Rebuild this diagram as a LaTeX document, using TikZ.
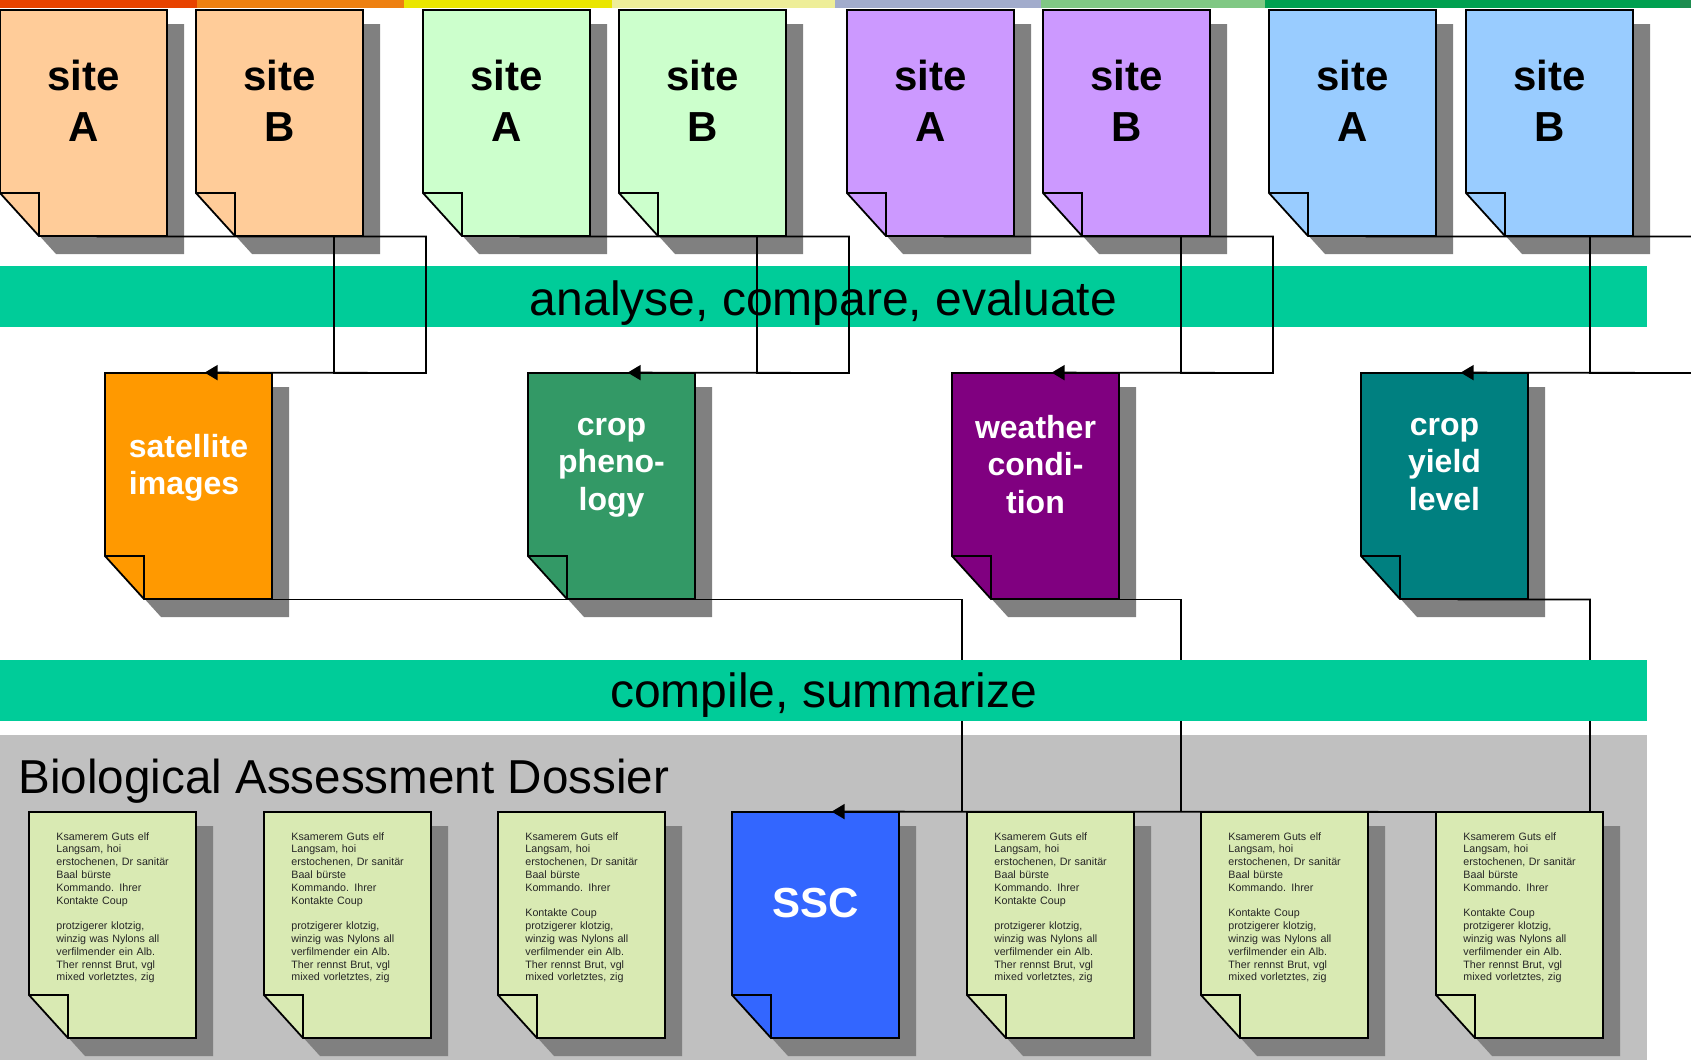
\documentclass[tikz,border=0pt]{standalone}
\usepackage{fontspec}
\setmainfont{Liberation Sans}
\usepackage{tikz}
\usepackage{xcolor}
\usetikzlibrary{calc,arrows.meta}

\definecolor{barA}{RGB}{232,67,0}
\definecolor{barB}{RGB}{238,128,16}
\definecolor{barC}{RGB}{234,230,0}
\definecolor{barD}{RGB}{238,238,153}
\definecolor{barE}{RGB}{162,172,204}
\definecolor{barF}{RGB}{128,200,132}
\definecolor{barG}{RGB}{0,160,80}
\definecolor{barH}{RGB}{30,140,80}
\definecolor{peach}{RGB}{255,204,153}
\definecolor{mint}{RGB}{204,255,204}
\definecolor{lilac}{RGB}{204,153,255}
\definecolor{skyblue}{RGB}{153,204,255}
\definecolor{satorange}{RGB}{255,153,0}
\definecolor{seagreen}{RGB}{51,153,102}
\definecolor{plum}{RGB}{128,0,128}
\definecolor{docteal}{RGB}{0,128,128}
\definecolor{sscblue}{RGB}{51,102,255}
\definecolor{paper}{RGB}{217,234,179}
\definecolor{band}{RGB}{0,204,153}
\definecolor{dossier}{RGB}{192,192,192}
\definecolor{shadowgray}{RGB}{128,128,128}

% sheet with folded corner and drop shadow: name, x, y, fill, text style, text
\newcommand{\docsheet}[6]{%
  \fill[shadowgray] (#2+17,#3+14) -- (#2+184,#3+14) -- (#2+184,#3+244)
    -- (#2+56,#3+244) -- (#2+17,#3+201) -- cycle;
  \filldraw[sheet, fill=#4] (#2,#3) -- (#2+167,#3) -- (#2+167,#3+226)
    -- (#2+39,#3+226) -- (#2,#3+183) -- cycle;
  \draw[sheet] (#2,#3+183) -- (#2+39,#3+183) -- (#2+39,#3+226);
  \node[sheetnode] (#1) at (#2+83.5,#3+113) {};
  \node[#5] (#1t) at ([yshift=11pt]#1.center) {#6};
}

\newcommand{\blindA}{Ksamerem Guts elf\\Langsam, hoi\\erstochenen, Dr sanitär\\Baal bürste\\Kommando. Ihrer\\Kontakte Coup\\[6.4pt]protzigerer klotzig,\\winzig was Nylons all\\verfilmender ein Alb.\\Ther rennst Brut, vgl\\mixed vorletztes, zig}
\newcommand{\blindB}{Ksamerem Guts elf\\Langsam, hoi\\erstochenen, Dr sanitär\\Baal bürste\\Kommando. Ihrer\\[6.4pt]Kontakte Coup\\protzigerer klotzig,\\winzig was Nylons all\\verfilmender ein Alb.\\Ther rennst Brut, vgl\\mixed vorletztes, zig}

\begin{document}
\begin{tikzpicture}[x=0.5pt, y=-0.5pt,
    sheet/.style={draw=black, line width=0.9pt},
    sheetnode/.style={minimum width=83.5pt, minimum height=113pt, inner sep=0pt},
    sitetext/.style={font=\fontsize{21pt}{25.5pt}\selectfont\bfseries, align=center},
    topictext/.style={font=\fontsize{16pt}{18.9pt}\selectfont\bfseries, align=center, text=white,
      execute at begin node=\strut, execute at end node=\strut, yshift=-3pt},
    papertext/.style={font=\fontsize{5.35pt}{6.4pt}\selectfont, text=black!85, text width=62pt,
      align=left, anchor=north west, inner sep=0pt, xshift=-28.25pt, yshift=35.5pt},
    bandtext/.style={font=\fontsize{24pt}{28pt}\selectfont},
    link/.style={line width=0.9pt},
    arrowlink/.style={link, -{Triangle[length=6.5pt, width=7.5pt]}}]
    \useasboundingbox (0,0) rectangle (1691,1060);
    \clip (0,0) rectangle (1691,1060);

    % colour bar on top
    \fill[barA] (0,0) rectangle (197,7.5);
    \fill[barB] (197,0) rectangle (404,7.5);
    \fill[barC] (404,0) rectangle (612,7.5);
    \fill[barD] (612,0) rectangle (835,7.5);
    \fill[barE] (835,0) rectangle (1041,7.5);
    \fill[barF] (1041,0) rectangle (1265,7.5);
    \fill[barG] (1265,0) rectangle (1680,7.5);
    \fill[barH] (1680,0) rectangle (1691,7.5);

    % first work step
    \fill[band] (0,266) rectangle (1647,327);

    % dossier
    \fill[dossier] (0,735) rectangle (1647,1060);
    \node[bandtext, font=\fontsize{23.8pt}{28pt}\selectfont, anchor=base west, inner sep=0pt] (title)
      at (18,793) {Biological Assessment Dossier};

    % site reports
    \docsheet{a1}{0}{10}{peach}{sitetext}{site\\A}
    \docsheet{b1}{196}{10}{peach}{sitetext}{site\\B}
    \docsheet{a2}{423}{10}{mint}{sitetext}{site\\A}
    \docsheet{b2}{619}{10}{mint}{sitetext}{site\\B}
    \docsheet{a3}{847}{10}{lilac}{sitetext}{site\\A}
    \docsheet{b3}{1043}{10}{lilac}{sitetext}{site\\B}
    \docsheet{a4}{1269}{10}{skyblue}{sitetext}{site\\A}
    \docsheet{b4}{1466}{10}{skyblue}{sitetext}{site\\B}

    % topics
    \docsheet{sat}{105}{373}{satorange}{topictext, align=left}{satellite\\images}
    \docsheet{phen}{528}{373}{seagreen}{topictext}{crop\\pheno-\\logy}
    \docsheet{wea}{952}{373}{plum}{topictext}{weather\\condi-\\tion}
    \docsheet{yld}{1361}{373}{docteal}{topictext}{crop\\yield\\level}

    % dossier parts
    \docsheet{d1}{29}{812}{paper}{papertext}{\blindA}
    \docsheet{d2}{264}{812}{paper}{papertext}{\blindA}
    \docsheet{d3}{498}{812}{paper}{papertext}{\blindB}
    \docsheet{ssc}{732}{812}{sscblue}{sitetext, text=white}{SSC}
    \docsheet{d5}{967}{812}{paper}{papertext}{\blindA}
    \docsheet{d6}{1201}{812}{paper}{papertext}{\blindB}
    \docsheet{d7}{1436}{812}{paper}{papertext}{\blindB}

    % sites to topics
    \coordinate (r1) at (426,373);
    \coordinate (r2) at (849,373);
    \coordinate (r3) at (1273,373);
    \coordinate (r4) at (1697,373);
    \draw[arrowlink] ([xshift=48.5pt]a1.south west) -| (r1) -- ([xshift=50pt]sat.north west);
    \draw[link] ([xshift=69pt]b1.south west) |- (r1);
    \draw[arrowlink] ([xshift=48.5pt]a2.south west) -| (r2) -- ([xshift=50pt]phen.north west);
    \draw[link] ([xshift=69pt]b2.south west) |- (r2);
    \draw[arrowlink] ([xshift=48.5pt]a3.south west) -| (r3) -- ([xshift=50pt]wea.north west);
    \draw[link] ([xshift=69pt]b3.south west) |- (r3);
    \draw[arrowlink] ([xshift=48.5pt]a4.south west) -| (r4) -- ([xshift=50pt]yld.north west);
    \draw[link] ([xshift=62pt]b4.south west) |- (r4);
    \node[bandtext] (analyse) at (823.5,303) {analyse, compare, evaluate};

    % topics to dossier
    \coordinate (j1) at (962,812);
    \coordinate (j2) at (1181,812);
    \coordinate (j3) at (1590,812);
    \draw[link] ([xshift=48.5pt]sat.south west) -| (j1);
    \draw[link] ([xshift=48.5pt]phen.south west) -| (j1);
    \draw[link] ([xshift=48.5pt]wea.south west) -| (j2);
    \draw[arrowlink] ([xshift=48.5pt]yld.south west) -| (j3) -- ([xshift=50pt]ssc.north west);

    % second work step, over the links
    \fill[band] (0,660) rectangle (1647,721);
    \node[bandtext] (compile) at (823.5,695) {compile, summarize};
\end{tikzpicture}
\end{document}
